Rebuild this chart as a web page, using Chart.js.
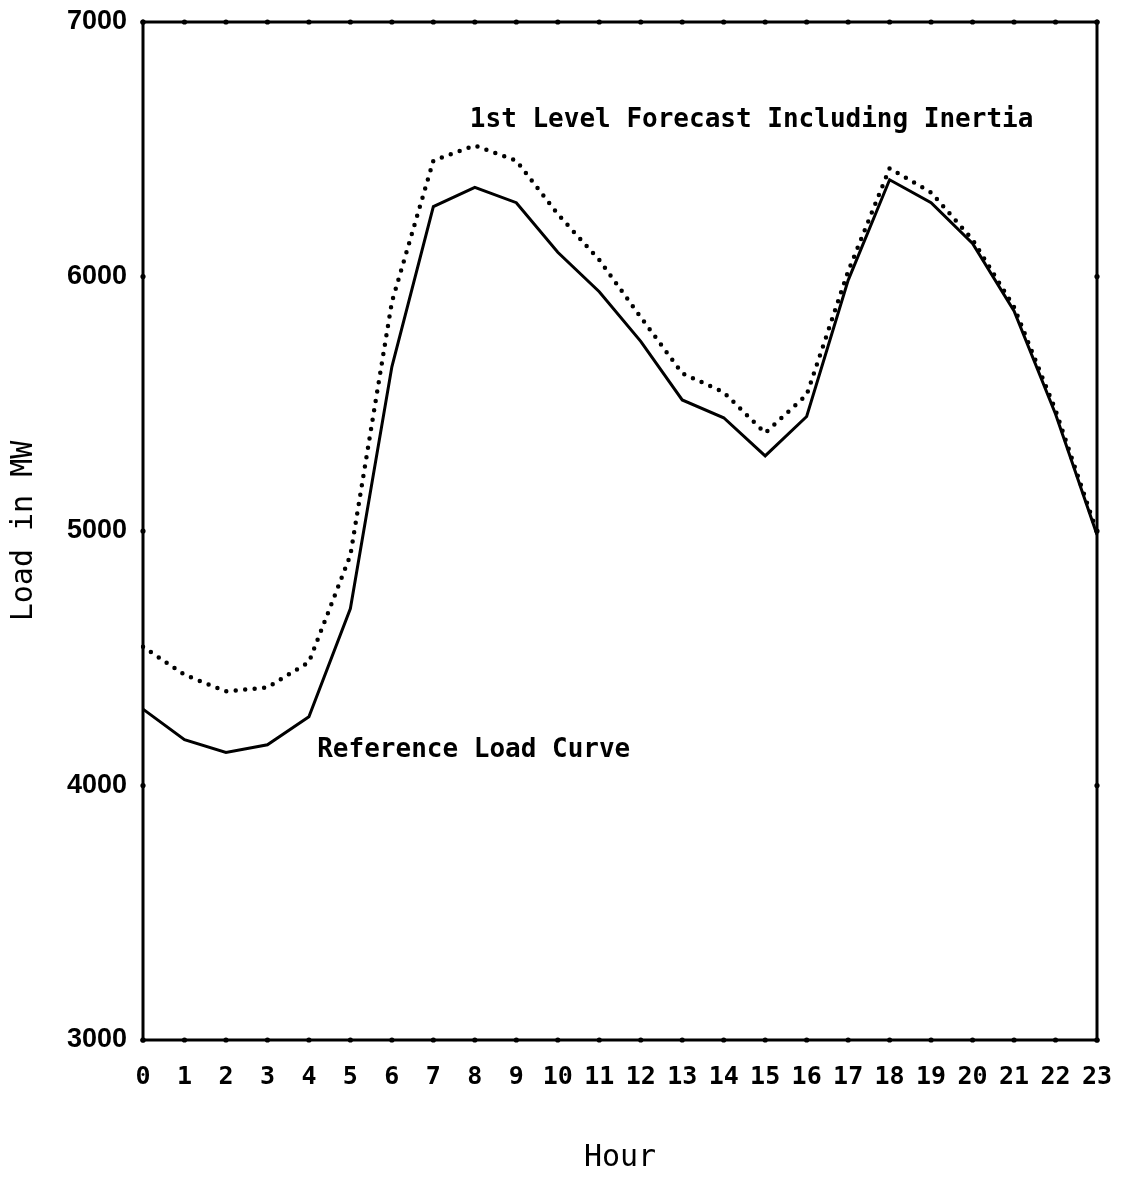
<!DOCTYPE html>
<html>
<head>
<meta charset="utf-8">
<script src="https://cdn.jsdelivr.net/npm/chart.js@4"></script>
<style>
  html, body { margin: 0; padding: 0; background: #ffffff; }
  #wrap { width: 1129px; height: 1188px; }
</style>
</head>
<body>
<div id="wrap"><canvas id="c" width="1129" height="1188"></canvas></div>
<script>
const hours = ["0","1","2","3","4","5","6","7","8","9","10","11","12","13","14","15","16","17","18","19","20","21","22","23"];
const referenceLoad = [4300, 4180, 4130, 4160, 4270, 4695, 5645, 6275, 6350, 6290, 6095, 5940, 5745, 5515, 5445, 5295, 5450, 5985, 6380, 6290, 6130, 5865, 5460, 4985];
const forecastInertia = [4545, 4435, 4370, 4385, 4485, 4905, 5900, 6455, 6515, 6455, 6245, 6065, 5840, 5620, 5545, 5385, 5535, 6020, 6425, 6330, 6145, 5880, 5475, 4995];
const yTicks = [3000, 4000, 5000, 6000, 7000];
const annotations = [
  { text: "1st Level Forecast Including Inertia", x: 7.88, y: 6612 },
  { text: "Reference Load Curve", x: 4.2, y: 4140 }
];

const framePlugin = {
  id: 'frame',
  afterDatasetsDraw(chart) {
    const { ctx, chartArea: a, scales } = chart;
    ctx.save();
    ctx.strokeStyle = '#000';
    ctx.lineWidth = 3;
    ctx.strokeRect(a.left, a.top, a.right - a.left, a.bottom - a.top);
    ctx.fillStyle = '#000';
    hours.forEach((h, i) => {
      const px = scales.x.getPixelForValue(i);
      [a.top, a.bottom].forEach(py => {
        ctx.beginPath(); ctx.arc(px, py, 2.6, 0, Math.PI * 2); ctx.fill();
      });
    });
    yTicks.forEach(v => {
      const py = scales.y.getPixelForValue(v);
      [a.left, a.right].forEach(px => {
        ctx.beginPath(); ctx.arc(px, py, 2.6, 0, Math.PI * 2); ctx.fill();
      });
    });
    ctx.font = 'bold 26px "DejaVu Sans Mono"';
    ctx.textBaseline = 'middle';
    ctx.textAlign = 'left';
    annotations.forEach(t => {
      ctx.fillText(t.text, scales.x.getPixelForValue(t.x), scales.y.getPixelForValue(t.y));
    });
    ctx.restore();
  }
};

new Chart(document.getElementById('c'), {
  type: 'line',
  data: {
    labels: hours,
    datasets: [
      {
        label: 'Reference Load Curve',
        data: referenceLoad,
        borderColor: '#000',
        borderWidth: 3,
        pointRadius: 0,
        tension: 0,
        fill: false
      },
      {
        label: '1st Level Forecast Including Inertia',
        data: forecastInertia,
        borderColor: '#000',
        borderWidth: 4.5,
        borderDash: [0, 9.5],
        borderCapStyle: 'round',
        pointRadius: 0,
        tension: 0,
        fill: false
      }
    ]
  },
  options: {
    responsive: false,
    animation: false,
    devicePixelRatio: 1,
    layout: { padding: { top: 22, right: 32, left: 0, bottom: 0 } },
    plugins: {
      legend: { display: false },
      tooltip: { enabled: false }
    },
    scales: {
      x: {
        type: 'category',
        offset: false,
        grid: { display: false, drawTicks: false },
        border: { display: false },
        ticks: {
          color: '#000',
          padding: 22,
          maxRotation: 0,
          autoSkip: false,
          font: { family: '"DejaVu Sans Mono"', weight: 'bold', size: 25 }
        },
        title: {
          display: true,
          text: 'Hour',
          color: '#000',
          padding: { top: 0, bottom: 12 },
          font: { family: '"DejaVu Sans Mono"', size: 30 }
        },
        afterFit(scale) {
          scale.height = 148;
          scale.paddingLeft = 0;
          scale.paddingRight = 0;
        }
      },
      y: {
        min: 3000,
        max: 7000,
        grid: { display: false, drawTicks: false },
        border: { display: false },
        ticks: {
          stepSize: 1000,
          color: '#000',
          padding: 16,
          callback: (v) => String(v),
          font: { family: '"Liberation Sans"', weight: 'bold', size: 27 }
        },
        title: {
          display: true,
          text: 'Load in MW',
          color: '#000',
          padding: { top: 6, bottom: 0 },
          font: { family: '"DejaVu Sans Mono"', size: 30 }
        },
        afterFit(scale) {
          scale.width = 143;
          scale.paddingTop = 0;
          scale.paddingBottom = 0;
        }
      }
    }
  },
  plugins: [framePlugin]
});
</script>
</body>
</html>
